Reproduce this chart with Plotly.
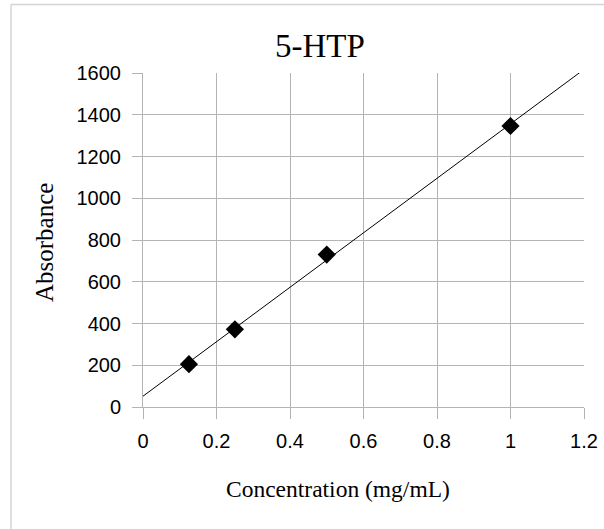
import numpy as np
import plotly.graph_objects as go

# Data
concentration = [0.125, 0.25, 0.5, 1.0]
absorbance = [205, 372, 730, 1346]
x_ticks = [0, 0.2, 0.4, 0.6, 0.8, 1, 1.2]
x_tick_labels = ["0", "0.2", "0.4", "0.6", "0.8", "1", "1.2"]
y_ticks = [0, 200, 400, 600, 800, 1000, 1200, 1400, 1600]

# Linear trendline fitted to data
slope, intercept = np.polyfit(concentration, absorbance, 1)
trend_x = [0, 1.2]
trend_y = [intercept + slope * v for v in trend_x]

W, H = 604, 529
L, R, T, B = 143, 584, 73, 407  # plot area in px

def px(xp):
    return (xp - L) / (R - L)

def py(yp):
    return (B - yp) / (B - T)

grid = "#b4b4b4"
serif = "Liberation Serif, Times New Roman, serif"

fig = go.Figure()
fig.add_trace(go.Scatter(x=trend_x, y=trend_y, mode="lines",
                         line=dict(color="black", width=1), showlegend=False,
                         hoverinfo="skip"))
fig.add_trace(go.Scatter(x=concentration, y=absorbance, mode="markers",
                         marker=dict(symbol="diamond", size=14, color="black"),
                         showlegend=False))

fig.update_layout(
    width=W, height=H, autosize=False,
    margin=dict(l=L, r=W - R, t=T, b=H - B, autoexpand=False),
    paper_bgcolor="white", plot_bgcolor="white",
    font=dict(family="Liberation Sans, Arial, sans-serif", color="black"),
    xaxis=dict(range=[0, 1.2], tickvals=x_ticks, ticktext=x_tick_labels,
               showgrid=True, gridcolor=grid, gridwidth=1,
               showline=True, linecolor=grid, linewidth=1,
               ticks="outside", ticklen=11, tickcolor=grid,
               ticklabelstandoff=5, automargin=False,
               tickfont=dict(size=20), zeroline=False),
    yaxis=dict(range=[0, 1600], tickvals=y_ticks,
               showgrid=True, gridcolor=grid, gridwidth=1,
               showline=True, linecolor=grid, linewidth=1,
               ticks="outside", ticklen=10, tickcolor=grid,
               ticklabelstandoff=7, automargin=False,
               tickfont=dict(size=20), zeroline=False),
    shapes=[
        dict(type="line", xref="paper", yref="paper",
             x0=px(11), x1=px(11), y0=py(4.5), y1=py(H + 5),
             line=dict(color="#d4d4d4", width=1.5)),
        dict(type="line", xref="paper", yref="paper",
             x0=px(11), x1=px(W + 5), y0=py(4.5), y1=py(4.5),
             line=dict(color="#d4d4d4", width=1.5)),
    ],
    annotations=[
        dict(text="5-HTP", xref="paper", yref="paper", x=px(320), y=py(46),
             xanchor="center", yanchor="middle", showarrow=False,
             font=dict(family=serif, size=33)),
        dict(text="Absorbance", xref="paper", yref="paper", x=px(44), y=py(243),
             xanchor="center", yanchor="middle", showarrow=False, textangle=-90,
             font=dict(family=serif, size=25)),
        dict(text="Concentration (mg/mL)", xref="paper", yref="paper", x=px(338), y=py(489),
             xanchor="center", yanchor="middle", showarrow=False,
             font=dict(family=serif, size=23.5)),
    ],
)

fig.write_html(
    "out.html",
    config={"displayModeBar": False, "responsive": False},
    post_script="document.body.style.margin='0';document.body.style.overflow='hidden';"
                "document.documentElement.style.overflow='hidden';",
)
